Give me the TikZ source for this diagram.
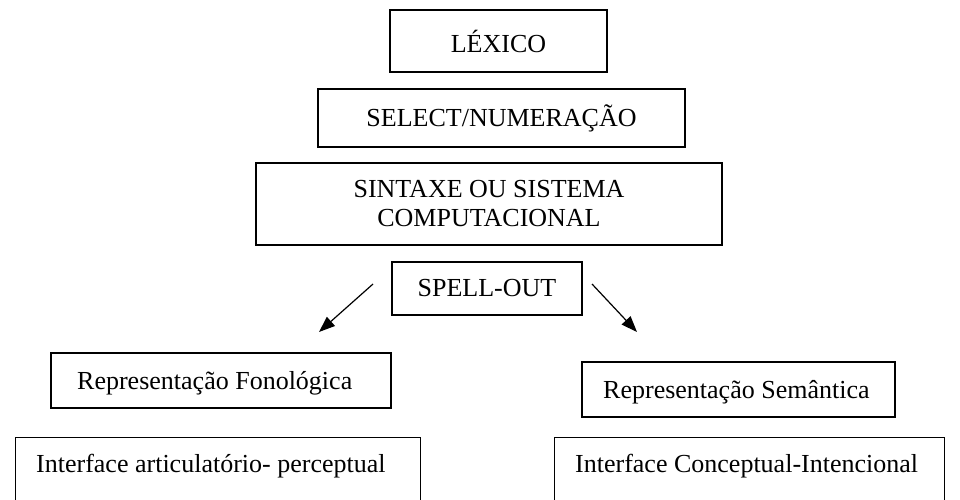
\documentclass[tikz,border=0pt]{standalone}
\usepackage{fontspec}
\setmainfont{Liberation Serif}
\usetikzlibrary{arrows.meta}
\begin{document}
\begin{tikzpicture}[x=1pt,y=-1pt]
  \tikzstyle{every node}=[font=\fontsize{26}{29}\selectfont,inner sep=0pt]
  \tikzstyle{caixa}=[draw,line width=1.4pt]
  \tikzstyle{seta}=[-{Triangle[length=16pt,width=12pt]},line width=1.2pt]
  \useasboundingbox (0,0) rectangle (960,500);
  \clip (0,0) rectangle (960,500);
  \node [caixa,minimum width=217pt,minimum height=62pt] (lexico) at (498.5,41) {LÉXICO};
  \node [caixa,minimum width=367pt,minimum height=58pt] (select) at (501.5,118) {SELECT/NUMERAÇÃO};
  \node [caixa,minimum width=466pt,minimum height=82pt,align=center] (sintaxe) at (489,204) {SINTAXE OU SISTEMA\\COMPUTACIONAL};
  \node [caixa,minimum width=190pt,minimum height=53pt] (spell) at (487,288.5) {SPELL-OUT};
  \node [caixa,minimum width=340pt,minimum height=55pt] (fono) at (221,380.5) {};
  \node [anchor=base west] (fonotxt) at (77,389) {Representação Fonológica};
  \node [caixa,minimum width=313pt,minimum height=55pt] (sema) at (738.5,389.5) {};
  \node [anchor=base west] (sematxt) at (603,398) {Representação Semântica};
  % caixas de baixo, cortadas na margem
  \node [caixa,minimum width=405pt,minimum height=120pt,anchor=north west] (artic) at (15,437) {};
  \node [anchor=base west] (artictxt) at (36,472) {Interface articulatório- perceptual};
  \node [caixa,minimum width=390pt,minimum height=120pt,anchor=north west] (conc) at (554,437) {};
  \node [anchor=base west] (conctxt) at (575,472) {Interface Conceptual-Intencional};
  \coordinate (spellesq) at (373,284);
  \coordinate (fonoin) at (319,332);
  \coordinate (spelldir) at (592,284);
  \coordinate (semain) at (637,332);
  \draw [seta] (spellesq) -- (fonoin);
  \draw [seta] (spelldir) -- (semain);
\end{tikzpicture}
\end{document}
